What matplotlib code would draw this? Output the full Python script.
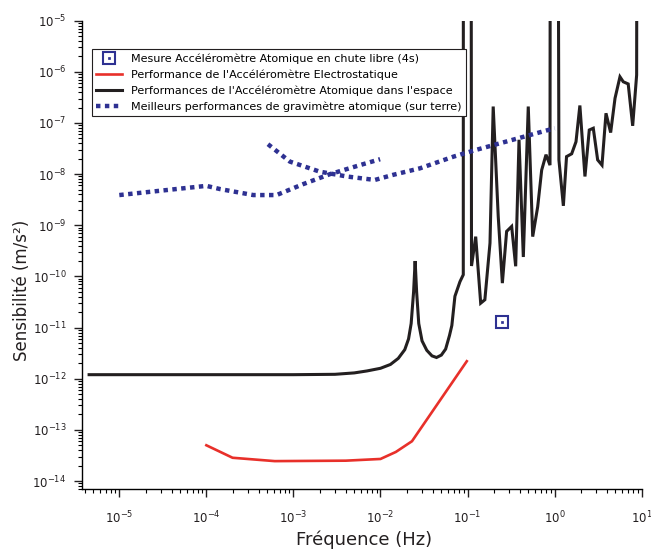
import numpy as np
import matplotlib
matplotlib.use("Agg")
import matplotlib.pyplot as plt
from matplotlib.ticker import FixedLocator, LogLocator, NullFormatter, LogFormatterSciNotation

# --- data ---
# Electrostatic accelerometer performance
elec_f = [1e-4, 2e-4, 6.1e-4, 4e-3, 1e-2, 1.5e-2, 2.3e-2, 0.098]
elec_s = [5e-14, 2.85e-14, 2.45e-14, 2.5e-14, 2.7e-14, 3.7e-14, 6e-14, 2.2e-12]

# Atomic accelerometer in space (values above 1e-5 run off the chart)
atom_f = [4.5e-6, 1e-4, 1e-3, 3e-3, 5e-3, 7e-3, 1e-2, 1.3e-2, 1.6e-2, 1.9e-2,
          2.1e-2, 2.25e-2, 2.4e-2, 2.5e-2, 2.6e-2, 2.75e-2, 3e-2, 3.4e-2,
          3.9e-2, 4.4e-2, 5e-2, 5.6e-2, 6.2e-2, 6.6e-2, 0.0716, 0.0818,
          0.0893, 0.0895, 0.110, 0.111, 0.124, 0.1415, 0.158, 0.181, 0.197,
          0.225, 0.251, 0.281, 0.321, 0.357, 0.390, 0.437, 0.498, 0.560,
          0.639, 0.71, 0.796, 0.885, 0.89, 1.10, 1.12, 1.26, 1.37, 1.57,
          1.76, 1.95, 2.23, 2.50, 2.78, 3.12, 3.50, 3.89, 4.40, 4.94, 5.63,
          6.14, 7.0, 7.88, 8.75, 8.8]
atom_s = [1.2e-12, 1.2e-12, 1.2e-12, 1.22e-12, 1.3e-12, 1.42e-12, 1.6e-12,
          1.9e-12, 2.5e-12, 3.7e-12, 6e-12, 1.2e-11, 5e-11, 2e-10, 5e-11,
          1.2e-11, 5.5e-12, 3.6e-12, 2.8e-12, 2.6e-12, 2.9e-12, 3.8e-12,
          7e-12, 1.1e-11, 4.1e-11, 7.9e-11, 1.08e-10, 1e-3, 1e-3, 1.6e-10,
          6.0e-10, 3.0e-11, 3.5e-11, 4.5e-10, 2.1e-7, 1.5e-9, 7.4e-11,
          7.6e-10, 9.5e-10, 1.58e-10, 4.7e-8, 2.4e-10, 2.1e-7, 6.0e-10,
          2.3e-9, 1.2e-8, 2.4e-8, 1.5e-8, 1e-3, 1e-3, 1.9e-8, 2.4e-9, 2.2e-8,
          2.5e-8, 4.3e-8, 2.2e-7, 9e-9, 7.3e-8, 7.9e-8, 1.9e-8, 1.5e-8,
          1.55e-7, 6.5e-8, 3.05e-7, 8.0e-7, 6.4e-7, 5.8e-7, 8.8e-8, 8.7e-7,
          1e-3]

# Best ground atomic gravimeters (two separate curves, NaN = break)
grav_f = [1e-5, 1e-4, 1.44e-4, 3.46e-4, 6.4e-4, 1.3e-3, 2.63e-3, 5.8e-3, 9.9e-3,
          np.nan,
          5.1e-4, 9.1e-4, 2e-3, 4.1e-3, 8.6e-3, 1.4e-2, 2.84e-2, 6.9e-2, 0.127, 1.0]
grav_s = [3.9e-9, 5.9e-9, 5.1e-9, 3.9e-9, 3.9e-9, 6.4e-9, 1e-8, 1.5e-8, 1.96e-8,
          np.nan,
          3.85e-8, 1.76e-8, 1.12e-8, 9e-9, 7.7e-9, 9.7e-9, 1.3e-8, 2.2e-8, 3e-8, 7.9e-8]

# Free-fall measurement (4 s)
meas_f = [0.247]
meas_s = [1.3e-11]

x_major = [1e-5, 1e-4, 1e-3, 1e-2, 1e-1, 1e0, 1e1]
y_major = [1e-14, 1e-13, 1e-12, 1e-11, 1e-10, 1e-9, 1e-8, 1e-7, 1e-6, 1e-5]

red = '#E8302A'
black = '#231F20'
navy = '#2E3192'

fig = plt.figure(figsize=(6.51, 5.55), dpi=100)
ax = fig.add_axes([0.1255, 0.1189, 0.8602, 0.8438])

l_red, = ax.plot(elec_f, elec_s, color=red, lw=1.9, solid_joinstyle='miter')
l_blk, = ax.plot(atom_f, atom_s, color=black, lw=2.2, solid_joinstyle='miter')
l_grav, = ax.plot(grav_f, grav_s, color=navy, lw=3.2, linestyle=(0, (1, 1)))
m_sq, = ax.plot(meas_f, meas_s, linestyle='none', marker='s', ms=9,
                mfc='white', mec=navy, mew=1.5)
m_dot, = ax.plot(meas_f, meas_s, linestyle='none', marker='s', ms=1.8,
                 mfc=navy, mec=navy, mew=0.5)

ax.set_xscale('log')
ax.set_yscale('log')
ax.set_xlim(3.7e-6, 10)
ax.set_ylim(6.98e-15, 1e-5)

ax.xaxis.set_major_locator(FixedLocator(x_major))
ax.yaxis.set_major_locator(FixedLocator(y_major))
for axis in (ax.xaxis, ax.yaxis):
    axis.set_major_formatter(LogFormatterSciNotation())
    axis.set_minor_locator(LogLocator(base=10, subs=np.arange(2, 10), numticks=30))
    axis.set_minor_formatter(NullFormatter())

ax.spines['top'].set_visible(False)
ax.spines['right'].set_visible(False)
ax.spines['left'].set_linewidth(1.0)
ax.spines['bottom'].set_linewidth(1.0)
ax.tick_params(which='major', direction='out', length=6, width=1.0, labelsize=8.5,
               colors='#231F20')
ax.tick_params(axis='x', which='major', pad=9)
ax.tick_params(axis='y', which='major', pad=5)
ax.tick_params(which='minor', direction='out', length=3, width=0.8)

ax.set_xlabel('Fréquence (Hz)', fontsize=13, color='#231F20')
ax.set_ylabel('Sensibilité (m/s²)', fontsize=12, color='#231F20')
ax.xaxis.set_label_coords(0.505, -0.088)
ax.yaxis.set_label_coords(-0.09, 0.425)

leg = ax.legend([(m_sq, m_dot), l_red, l_blk, l_grav],
                ['Mesure Accéléromètre Atomique en chute libre (4s)',
                 "Performance de l'Accéléromètre Electrostatique",
                 "Performances de l'Accéléromètre Atomique dans l'espace",
                 'Meilleurs performances de gravimètre atomique (sur terre)'],
                loc='upper left', bbox_to_anchor=(0.018, 0.94), borderaxespad=0,
                fontsize=8, frameon=True, fancybox=False, framealpha=1,
                edgecolor='#231F20', handlelength=2.3, handletextpad=0.8,
                labelspacing=0.5, borderpad=0.4)
leg.get_frame().set_linewidth(0.8)

fig.savefig('out.png', dpi=100)
